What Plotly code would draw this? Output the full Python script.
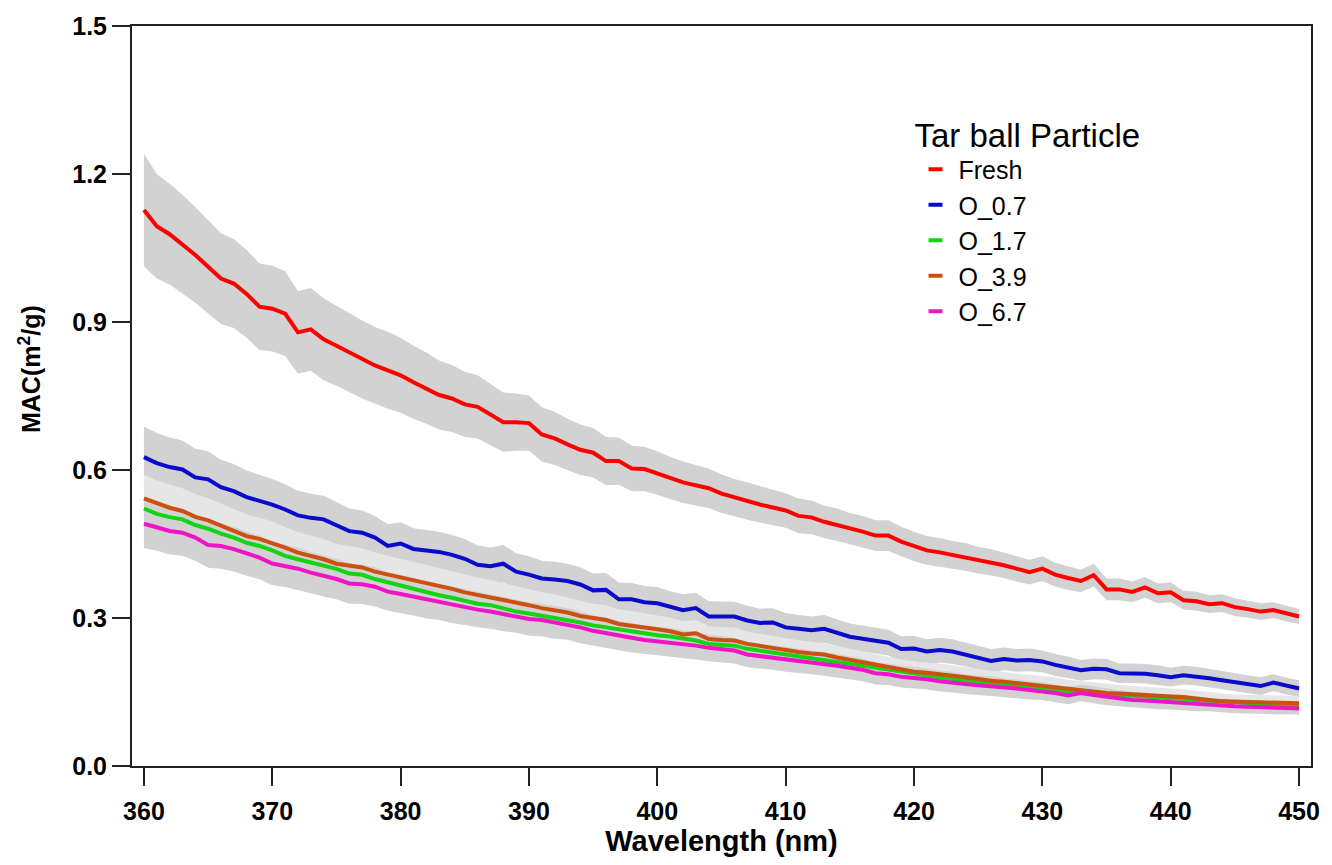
import plotly.graph_objects as go

wavelength = list(range(360, 451))

fresh = [1.127, 1.094, 1.078, 1.058, 1.036, 1.012, 0.988, 0.978, 0.957, 0.931,
         0.927, 0.917, 0.879, 0.885, 0.865, 0.852, 0.838, 0.824, 0.812, 0.802,
         0.792, 0.778, 0.766, 0.752, 0.745, 0.733, 0.728, 0.712, 0.697, 0.697,
         0.695, 0.672, 0.664, 0.652, 0.641, 0.635, 0.618, 0.618, 0.603, 0.602,
         0.594, 0.584, 0.575, 0.569, 0.563, 0.552, 0.544, 0.537, 0.530, 0.524,
         0.518, 0.507, 0.504, 0.495, 0.489, 0.481, 0.475, 0.467, 0.467, 0.455,
         0.445, 0.437, 0.433, 0.428, 0.424, 0.417, 0.413, 0.407, 0.400, 0.393,
         0.400, 0.388, 0.381, 0.375, 0.387, 0.358, 0.358, 0.353, 0.362, 0.350,
         0.352, 0.336, 0.334, 0.328, 0.330, 0.322, 0.318, 0.313, 0.316, 0.309,
         0.303]

o_07 = [0.626, 0.614, 0.606, 0.601, 0.585, 0.581, 0.565, 0.557, 0.545, 0.538,
        0.530, 0.520, 0.508, 0.503, 0.500, 0.488, 0.476, 0.473, 0.463, 0.446,
        0.451, 0.440, 0.437, 0.434, 0.428, 0.420, 0.408, 0.405, 0.410, 0.394,
        0.388, 0.380, 0.378, 0.375, 0.368, 0.356, 0.357, 0.338, 0.338, 0.332,
        0.330, 0.322, 0.316, 0.320, 0.303, 0.303, 0.303, 0.295, 0.290, 0.291,
        0.281, 0.278, 0.275, 0.278, 0.270, 0.262, 0.258, 0.254, 0.250, 0.237,
        0.238, 0.232, 0.235, 0.232, 0.226, 0.220, 0.213, 0.217, 0.214, 0.215,
        0.212, 0.205, 0.200, 0.194, 0.197, 0.196, 0.188, 0.188, 0.187, 0.184,
        0.180, 0.184, 0.182, 0.178, 0.174, 0.170, 0.166, 0.162, 0.169, 0.162,
        0.157]

o_17 = [0.522, 0.511, 0.5045, 0.500, 0.4885, 0.481, 0.471, 0.463, 0.4525, 0.446,
        0.437, 0.426, 0.419, 0.4125, 0.406, 0.3995, 0.390, 0.3875, 0.379, 0.372,
        0.3655, 0.358, 0.352, 0.346, 0.341, 0.335, 0.329, 0.326, 0.319, 0.313,
        0.309, 0.305, 0.300, 0.297, 0.291, 0.285, 0.281, 0.276, 0.272, 0.269,
        0.265, 0.2625, 0.258, 0.2545, 0.2475, 0.246, 0.244, 0.2375, 0.234, 0.230,
        0.226, 0.222, 0.219, 0.216, 0.211, 0.207, 0.203, 0.199, 0.195, 0.191,
        0.187, 0.183, 0.179, 0.176, 0.174, 0.171, 0.168, 0.1635, 0.161, 0.158,
        0.156, 0.153, 0.150, 0.151, 0.147, 0.145, 0.144, 0.142, 0.140, 0.139,
        0.137, 0.136, 0.134, 0.132, 0.130, 0.128, 0.127, 0.126, 0.125, 0.124,
        0.123]

o_39 = [0.5425, 0.532, 0.5235, 0.517, 0.505, 0.498, 0.487, 0.4765, 0.466, 0.4605,
        0.4525, 0.4425, 0.4325, 0.426, 0.419, 0.410, 0.406, 0.4025, 0.394, 0.3885,
        0.382, 0.376, 0.370, 0.365, 0.359, 0.352, 0.347, 0.343, 0.337, 0.331,
        0.326, 0.320, 0.316, 0.311, 0.304, 0.299, 0.296, 0.288, 0.285, 0.281,
        0.277, 0.273, 0.2665, 0.269, 0.2575, 0.2555, 0.2545, 0.2475, 0.243, 0.239,
        0.235, 0.231, 0.228, 0.226, 0.220, 0.215, 0.210, 0.205, 0.199, 0.195,
        0.191, 0.189, 0.187, 0.183, 0.180, 0.176, 0.173, 0.171, 0.168, 0.166,
        0.164, 0.161, 0.157, 0.154, 0.151, 0.148, 0.147, 0.145, 0.143, 0.141,
        0.141, 0.140, 0.136, 0.134, 0.131, 0.1295, 0.1295, 0.129, 0.128, 0.128,
        0.127]

o_67 = [0.491, 0.4845, 0.4765, 0.473, 0.463, 0.448, 0.446, 0.4395, 0.4305, 0.4225,
        0.4105, 0.406, 0.400, 0.392, 0.3855, 0.379, 0.370, 0.3685, 0.3635, 0.3535,
        0.3485, 0.343, 0.337, 0.333, 0.327, 0.322, 0.317, 0.313, 0.308, 0.304,
        0.298, 0.296, 0.291, 0.288, 0.281, 0.274, 0.270, 0.2645, 0.260, 0.2555,
        0.253, 0.2505, 0.247, 0.244, 0.2395, 0.237, 0.234, 0.226, 0.223, 0.220,
        0.216, 0.213, 0.210, 0.207, 0.203, 0.199, 0.195, 0.188, 0.186, 0.181,
        0.179, 0.176, 0.172, 0.170, 0.166, 0.1635, 0.162, 0.1585, 0.157, 0.154,
        0.152, 0.148, 0.143, 0.148, 0.144, 0.140, 0.137, 0.134, 0.133, 0.131,
        0.1295, 0.128, 0.126, 0.125, 0.123, 0.121, 0.120, 0.119, 0.118, 0.117,
        0.1165]

# uncertainty half-widths (shaded bands)
fresh_err = [0.114, 0.106, 0.102, 0.100, 0.097, 0.094, 0.092, 0.090, 0.089, 0.088,
             0.087, 0.086, 0.084, 0.084, 0.083, 0.081, 0.080, 0.079, 0.078, 0.078,
             0.076, 0.074, 0.072, 0.070, 0.068, 0.066, 0.064, 0.062, 0.060, 0.058,
             0.056, 0.055, 0.054, 0.052, 0.051, 0.050, 0.049, 0.048, 0.046, 0.045,
             0.044, 0.043, 0.042, 0.041, 0.040, 0.039, 0.038, 0.038, 0.037, 0.036,
             0.035, 0.035, 0.034, 0.033, 0.033, 0.032, 0.032, 0.031, 0.031, 0.030,
             0.030, 0.029, 0.029, 0.028, 0.028, 0.027, 0.027, 0.026, 0.026, 0.025,
             0.025, 0.024, 0.024, 0.023, 0.023, 0.022, 0.022, 0.021, 0.021, 0.020,
             0.020, 0.019, 0.019, 0.018, 0.018, 0.018, 0.017, 0.017, 0.016, 0.016,
             0.015]

o_07_err = [0.062, 0.061, 0.060, 0.059, 0.058, 0.057, 0.056, 0.055, 0.054, 0.053,
            0.052, 0.051, 0.050, 0.049, 0.048, 0.047, 0.046, 0.045, 0.044, 0.044,
            0.043, 0.042, 0.042, 0.041, 0.040, 0.040, 0.039, 0.038, 0.038, 0.037,
            0.037, 0.036, 0.036, 0.035, 0.035, 0.034, 0.034, 0.034, 0.033, 0.033,
            0.033, 0.032, 0.032, 0.031, 0.031, 0.031, 0.030, 0.030, 0.029, 0.029,
            0.029, 0.028, 0.028, 0.028, 0.027, 0.027, 0.027, 0.026, 0.026, 0.026,
            0.026, 0.025, 0.025, 0.025, 0.024, 0.024, 0.024, 0.023, 0.023, 0.023,
            0.022, 0.022, 0.022, 0.021, 0.021, 0.021, 0.020, 0.020, 0.020, 0.020,
            0.019, 0.019, 0.019, 0.019, 0.018, 0.018, 0.018, 0.018, 0.017, 0.017,
            0.017]

o_39_err = [0.048, 0.047, 0.047, 0.046, 0.046, 0.045, 0.045, 0.044, 0.044, 0.043,
            0.043, 0.042, 0.042, 0.041, 0.041, 0.040, 0.040, 0.039, 0.039, 0.038,
            0.038, 0.037, 0.037, 0.036, 0.036, 0.035, 0.035, 0.034, 0.034, 0.033,
            0.033, 0.032, 0.032, 0.031, 0.031, 0.030, 0.030, 0.029, 0.029, 0.028,
            0.028, 0.028, 0.027, 0.027, 0.026, 0.026, 0.026, 0.025, 0.025, 0.025,
            0.024, 0.024, 0.024, 0.023, 0.023, 0.023, 0.022, 0.022, 0.022, 0.022,
            0.021, 0.021, 0.021, 0.021, 0.020, 0.020, 0.020, 0.020, 0.019, 0.019,
            0.019, 0.019, 0.018, 0.018, 0.018, 0.018, 0.017, 0.017, 0.017, 0.017,
            0.016, 0.016, 0.016, 0.016, 0.016, 0.015, 0.015, 0.015, 0.015, 0.015,
            0.015]

o_67_err = [0.049, 0.048, 0.048, 0.047, 0.047, 0.046, 0.046, 0.045, 0.045, 0.044,
            0.044, 0.043, 0.043, 0.042, 0.042, 0.041, 0.041, 0.040, 0.040, 0.039,
            0.039, 0.038, 0.038, 0.037, 0.037, 0.036, 0.036, 0.035, 0.035, 0.034,
            0.034, 0.033, 0.033, 0.032, 0.032, 0.031, 0.031, 0.030, 0.030, 0.029,
            0.029, 0.029, 0.028, 0.028, 0.027, 0.027, 0.026, 0.026, 0.026, 0.025,
            0.025, 0.025, 0.024, 0.024, 0.024, 0.023, 0.023, 0.023, 0.022, 0.022,
            0.022, 0.021, 0.021, 0.021, 0.020, 0.020, 0.020, 0.019, 0.019, 0.019,
            0.018, 0.018, 0.018, 0.017, 0.017, 0.017, 0.016, 0.016, 0.016, 0.016,
            0.015, 0.015, 0.015, 0.014, 0.014, 0.014, 0.014, 0.013, 0.013, 0.013,
            0.012]

series_names = ["Fresh", "O_0.7", "O_1.7", "O_3.9", "O_6.7"]
series_values = [fresh, o_07, o_17, o_39, o_67]
series_colors = ["#ff0000", "#0a0acc", "#14d214", "#cc500f", "#f014c8"]

x_ticks = list(range(360, 451, 10))
y_ticks = [0.0, 0.3, 0.6, 0.9, 1.2, 1.5]

DARK = "#d2d2d2"
LIGHT = "#e6e6e6"
FONT = "Liberation Sans, Arial, sans-serif"

fig = go.Figure()

def band(vals, err, color):
    upper = [v + e for v, e in zip(vals, err)]
    lower = [v - e for v, e in zip(vals, err)]
    fig.add_trace(go.Scatter(
        x=wavelength + wavelength[::-1], y=upper + lower[::-1],
        fill="toself", fillcolor=color, mode="lines",
        line=dict(width=0, color=color), showlegend=False, hoverinfo="skip"))

band(fresh, fresh_err, DARK)
band(o_07, o_07_err, DARK)
band(o_39, o_39_err, LIGHT)
band(o_67, o_67_err, DARK)

for name, vals, color in zip(series_names, series_values, series_colors):
    fig.add_trace(go.Scatter(
        x=wavelength, y=vals, mode="lines",
        line=dict(color=color, width=4),
        name=name, showlegend=False))

# legend entries (short dash swatches)
for name, color in zip(series_names, series_colors):
    fig.add_trace(go.Scatter(
        x=[None], y=[None], mode="markers", name=name,
        marker=dict(symbol="line-ew", size=10, color=color,
                    line=dict(color=color, width=4)),
        showlegend=True))

fig.update_layout(
    width=1332, height=865,
    margin=dict(l=132, r=13, t=23, b=99),
    paper_bgcolor="white", plot_bgcolor="white",
    font=dict(family=FONT, color="black"),
    showlegend=True,
    legend=dict(
        x=0.662, y=0.895, xanchor="left", yanchor="top",
        bgcolor="rgba(0,0,0,0)", borderwidth=0,
        title=dict(text="Tar ball Particle", font=dict(size=33, family=FONT)),
        font=dict(size=25, family=FONT),
        itemwidth=36,
    ),
    xaxis=dict(
        range=[359.07, 450.93],
        tickmode="array", tickvals=x_ticks,
        ticktext=[f"<b>{v}</b>" for v in x_ticks],
        ticks="outside", ticklen=18, tickwidth=2, tickcolor="#222",
        ticklabelstandoff=4,
        showline=True, linecolor="#222", linewidth=2, mirror=True,
        showgrid=False, zeroline=False,
        tickfont=dict(size=25, family=FONT),
        title=dict(text="<b>Wavelength (nm)</b>", font=dict(size=29, family=FONT), standoff=4),
    ),
    yaxis=dict(
        range=[0, 1.5],
        tickmode="array", tickvals=y_ticks,
        ticktext=[f"<b>{v:.1f}</b>" for v in y_ticks],
        ticks="outside", ticklen=18, tickwidth=2, tickcolor="#222",
        showline=True, linecolor="#222", linewidth=2, mirror=True,
        showgrid=False, zeroline=False,
        tickfont=dict(size=25, family=FONT),
    ),
    annotations=[dict(
        text="<b>MAC(m<sup>2</sup>/g)</b>", textangle=-90,
        xref="paper", yref="paper", x=-0.087, y=0.537,
        xanchor="center", yanchor="middle", showarrow=False,
        font=dict(size=25, family=FONT, color="black"))],
)

fig.write_html("out.html")
